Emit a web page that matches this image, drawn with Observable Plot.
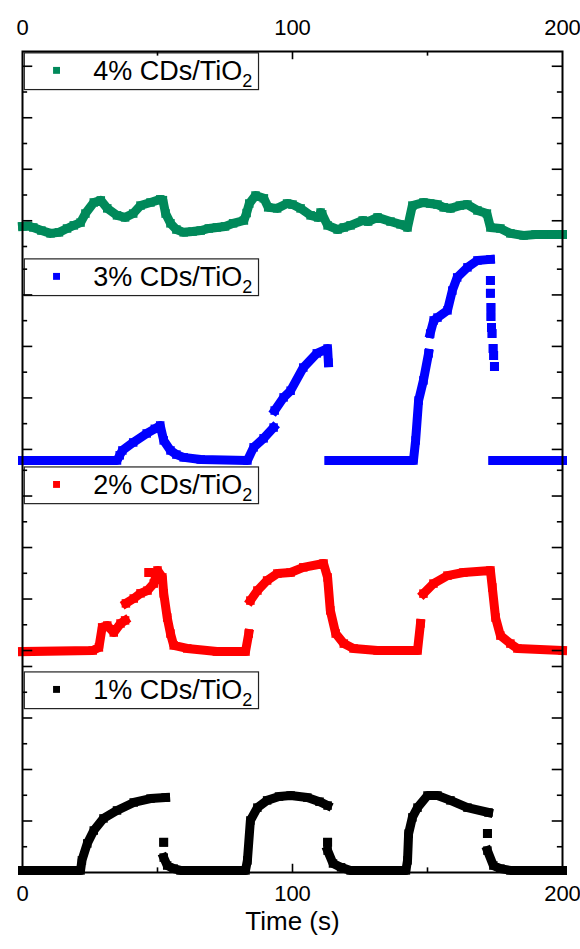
<!DOCTYPE html>
<html>
<head>
<meta charset="utf-8">
<script src="https://cdn.jsdelivr.net/npm/d3@7"></script>
<script src="https://cdn.jsdelivr.net/npm/@observablehq/plot@0.6"></script>
<style>
  html, body { margin: 0; padding: 0; background: #fff; }
</style>
</head>
<body>
<div id="chart"></div>
<script>
// ---- Data (time in s, photocurrent in arbitrary units per panel) ----
const seriesNames = ["4%", "3%", "2%", "1%"];
const seriesColors = ["#00895A", "#0000FF", "#FF0000", "#000000"];
const xTickLabels = [0, 100, 200];
const xAxisLabel = "Time (s)";

// [time, value] pairs; null breaks the trace
const pct4 = [
  [0,1.78],[2,1.80],[4,1.74],[7,1.62],[10.4,1.51],[13.5,1.55],[16.5,1.70],[19,1.82],[21.5,1.93],
  [23.3,2.28],[26.4,2.71],[29,2.79],[31.4,2.48],[35,2.21],[38,2.13],[41,2.28],[43.7,2.59],[47.4,2.71],
  [51,2.83],[52,2.80],[53,2.28],[54.8,1.90],[57,1.66],[59.7,1.55],[63,1.58],[66,1.62],[69,1.70],
  [72,1.74],[75,1.78],[78,1.90],[82,2.01],[83,2.30],[84,2.67],[86.3,2.98],[89.4,2.87],[91,2.52],
  [94.3,2.48],[98,2.67],[100,2.63],[103,2.48],[106.7,2.21],[109.5,2.13],[110.4,2.32],[111,2.25],
  [113,1.82],[116.7,1.66],[119,1.74],[121.5,1.82],[126,2.01],[128,1.97],[131.5,2.13],[136.3,1.97],
  [140,1.86],[142.6,1.74],[144.4,2.59],[148.5,2.71],[151,2.67],[153.7,2.63],[156,2.52],[158.5,2.48],
  [162,2.59],[164.8,2.63],[168.5,2.40],[172,2.28],[173.3,1.74],[177,1.70],[180.7,1.51],[185.6,1.43],
  [190,1.47],[193,1.47],[200,1.47]
];
const pct3 = [
  [0,0.57],[35,0.57],[36,0.77],[37,0.96],[41,1.27],[46,1.62],[49,1.80],[51,1.93],[52.3,1.35],
  [54.8,0.96],[57,0.80],[59.7,0.69],[66,0.61],[83.3,0.57],[85.6,1.08],[89.3,1.43],[93,1.85],null,
  [93.4,2.51],[96.7,3.02],[99.3,3.28],[104,4.18],[109,4.73],[113,4.92],[113.3,4.37],null,
  [113.5,0.57],[144.8,0.57],[145.6,1.35],[146.7,2.90],[148.5,3.68],[150.4,4.73],null,
  [151,5.50],[152.3,6.01],[153.7,6.12],[157.4,6.40],[159.2,7.17],[161,7.68],[164.8,8.07],
  [168.5,8.34],[173.3,8.38],null,
  [173.3,7.56],null,[173.3,7.06],null,[173.5,6.51],null,[173.5,6.16],null,[173.7,5.73],null,
  [173.9,5.50],null,[174.3,4.92],null,[174.5,4.65],null,[174.8,4.22],null,
  [174.2,0.57],[200,0.57]
];
const pct2 = [
  [0,0.96],[26,1.00],[28.3,1.12],[29.5,1.90],[31.4,1.97],[33.8,1.70],[36.3,2.05],[38,2.17],null,
  [38.3,2.83],[41.2,3.02],[43.7,3.22],[46.3,3.33],[48.6,3.60],[50,4.11],[51.8,3.84],[52.3,3.22],
  [53.6,2.28],[54.8,1.66],[56,1.20],[61,1.08],[72,0.96],[82.6,0.96],[83.8,1.66],null,
  [84.4,2.94],[87,3.33],[90.6,3.72],[94.4,3.99],[99.3,4.03],[104,4.23],[111.5,4.38],[113,3.84],
  [114,2.56],[116,1.66],[119,1.27],[122.6,1.08],[131.5,1.00],[146.3,1.00],[147.4,2.05],null,
  [148.5,3.21],[152.2,3.60],[157.4,3.91],[163.3,4.03],[173.3,4.11],[174,3.45],[175.2,2.28],
  [177,1.58],[180.7,1.27],[183.3,1.08],[200,1.00],null,[46.8,4.03]
];
const pct1 = [
  [0,0.08],[21.5,0.08],[22,0.47],[24,1.13],[26.4,1.63],[30,2.10],[35,2.41],[41.2,2.72],[47.4,2.87],
  [53,2.91],null,[52.3,1.17],null,[52.3,0.58],[53.6,0.27],[56,0.15],[58.5,0.08],[82.6,0.08],
  [83.3,0.47],[84.4,2.02],[87,2.52],[90.6,2.80],[95,2.95],[99.3,2.99],[105.5,2.91],[110,2.75],
  [113,2.60],null,[113,1.17],null,[113,0.85],[115,0.35],[118,0.20],[121.5,0.08],[142,0.08],
  [142.6,0.47],[143,1.51],[144.4,2.14],[146.3,2.52],[150,2.99],[153.7,2.99],[158.5,2.80],
  [164.8,2.52],[172.6,2.33],null,[172.2,1.51],null,[172.2,0.85],[174.4,0.27],[177,0.15],
  [180.7,0.08],[200,0.08]
];
const seriesData = [pct4, pct3, pct2, pct1];

// ---- Layout constants (stacked panels on one shared y scale) ----
const panelBase = [23.31, 15.43, 7.62, 0];      // panel offset on the shared y scale
const oddMajor = [false, true, true, false];    // which panel ticks are long
const legendTop = [31.81, 23.81, 15.73, 7.77];  // top of each legend box
const Y_TOP = 31.883;

const series = seriesNames.map((name, i) => ({
  name, color: seriesColors[i], base: panelBase[i], oddMajor: oddMajor[i],
  legendTop: legendTop[i],
  rows: seriesData[i].map(p => p ? {t: p[0], y: p[1] + panelBase[i]} : {t: NaN, y: NaN})
}));

const yTicks = series.flatMap(s => d3.range(1, 9).map(k => ({y: s.base + k, major: (k % 2 === 1) === s.oddMajor})));
const xTicks = [50, 100, 150].map(t => ({t, major: t === 100}));

const yLen = d => d.major ? 3.8 : 1.9;      // in x units
const xLen = d => d.major ? 0.32 : 0.18;    // in y units

const marks = [];
series.forEach(s => {
  marks.push(Plot.line(s.rows, {x: "t", y: "y", stroke: s.color, strokeWidth: 9, strokeLinejoin: "round", strokeLinecap: "square"}));
  marks.push(Plot.dot(s.rows, {x: "t", y: "y", symbol: "square", r: 4.8, fill: s.color, stroke: null}));
});
// legends
marks.push(Plot.rect(series, {x1: 0.85, x2: 87.6, y1: d => d.legendTop, y2: d => d.legendTop - 1.425, fill: "white", stroke: "#222", strokeWidth: 1.2}));
marks.push(Plot.dot(series, {x: 12.6, y: d => d.legendTop - 0.66, symbol: "square", r: 3.9, fill: d => d.color, stroke: null}));
marks.push(Plot.text(series, {x: 26.2, y: d => d.legendTop - 1.05, text: d => d.name + " CDs/TiO", textAnchor: "start", lineAnchor: "bottom", fontSize: 27, fill: "black"}));
// frame & ticks
marks.push(Plot.frame({stroke: "black", strokeWidth: 2}));
marks.push(Plot.ruleY(yTicks, {y: "y", x1: 0, x2: yLen, stroke: "black", strokeWidth: 1.6}));
marks.push(Plot.ruleY(yTicks, {y: "y", x1: 200, x2: d => 200 - yLen(d), stroke: "black", strokeWidth: 1.6}));
marks.push(Plot.ruleX(xTicks, {x: "t", y1: 0, y2: xLen, stroke: "black", strokeWidth: 1.6}));
marks.push(Plot.ruleX(xTicks, {x: "t", y1: Y_TOP, y2: d => Y_TOP - xLen(d), stroke: "black", strokeWidth: 1.6}));
// axes
marks.push(Plot.axisX({anchor: "top", ticks: xTickLabels, tickSize: 0, tickPadding: 17, fontSize: 22, label: null}));
marks.push(Plot.axisX({anchor: "bottom", ticks: xTickLabels, tickSize: 0, tickPadding: 13, fontSize: 22, label: null}));
marks.push(Plot.text([xAxisLabel], {x: 100, frameAnchor: "bottom", dy: 57, fontSize: 26, fill: "black"}));

const chart = Plot.plot({
  width: 580,
  height: 949,
  marginLeft: 22,
  marginRight: 18,
  marginTop: 51,
  marginBottom: 77,
  style: {fontFamily: '"Liberation Sans", Arial, sans-serif', color: "black", background: "white", overflow: "visible"},
  x: {domain: [0, 200]},
  y: {domain: [0, Y_TOP], axis: null},
  marks
});

// subscript "2" of TiO2 in legend labels
d3.select(chart).selectAll("text")
  .filter(function() { return this.textContent.endsWith("TiO"); })
  .append("tspan").attr("dy", 7).attr("font-size", 18).text("2");

document.getElementById("chart").appendChild(chart);
</script>
</body>
</html>
